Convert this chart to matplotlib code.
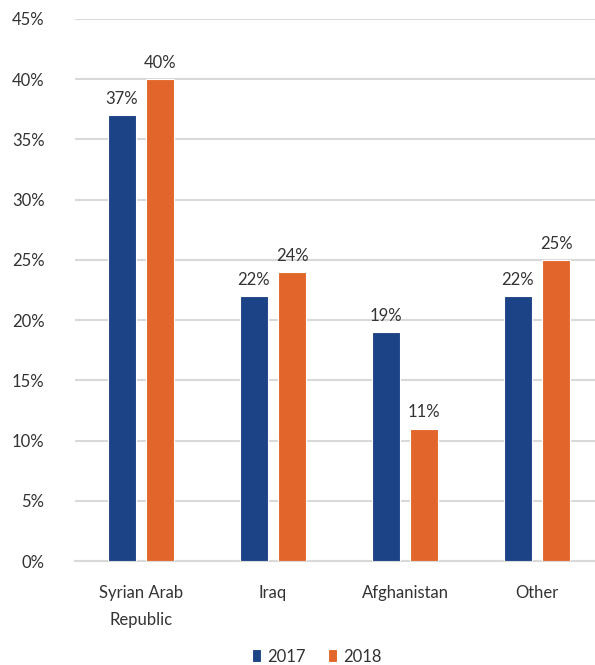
import matplotlib
matplotlib.use("Agg")
import matplotlib.pyplot as plt
import numpy as np

categories = ["Syrian Arab\nRepublic", "Iraq", "Afghanistan", "Other"]
years = ["2017", "2018"]
values_2017 = [37, 22, 19, 22]
values_2018 = [40, 24, 11, 25]
y_ticks = [0, 5, 10, 15, 20, 25, 30, 35, 40, 45]

colors = ["#1c4385", "#e2662b"]
text_color = "#333333"
grid_color = "#d9d9d9"
fs = 12

plt.rcParams["font.family"] = ["Lato", "DejaVu Sans"]

W, H = 595, 665
fig = plt.figure(figsize=(W / 100, H / 100), dpi=100)
ax = fig.add_axes([75 / W, (H - 561) / H, (W - 75) / W, 542 / H])

x = np.arange(len(categories))
bar_w = 0.212
offset = 0.144

for i, (vals, col, lab) in enumerate(zip([values_2017, values_2018], colors, years)):
    xs = x + (-offset if i == 0 else offset)
    bars = ax.bar(xs, vals, width=bar_w, color=col, edgecolor="white",
                  linewidth=0.8, label=lab, zorder=3)
    for b, v in zip(bars, vals):
        ax.annotate(f"{v}%", (b.get_x() + b.get_width() / 2, v),
                    xytext=(0, 6), textcoords="offset points",
                    ha="center", va="bottom", fontsize=fs, color=text_color)

ax.set_ylim(0, 45)
ax.set_xlim(-0.5, 3.5 - 8 / 132)
ax.set_yticks(y_ticks)
ax.set_yticklabels([f"{t}%" for t in y_ticks])
ax.set_xticks(x)
ax.set_xticklabels(categories, linespacing=1.85)

ax.yaxis.grid(True, color=grid_color, linewidth=1.5, zorder=0)
ax.set_axisbelow(True)
for s in ["top", "right", "left"]:
    ax.spines[s].set_visible(False)
ax.spines["bottom"].set_color(grid_color)
ax.spines["bottom"].set_linewidth(1.5)

ax.tick_params(axis="both", length=0, labelsize=fs, labelcolor=text_color)
ax.tick_params(axis="y", pad=22)
ax.tick_params(axis="x", pad=17)

leg = fig.legend(loc="lower center", bbox_to_anchor=(317 / W, -0.022), ncol=2,
                 frameon=False, fontsize=fs, handlelength=0.55, handleheight=0.8,
                 handletextpad=0.4, columnspacing=1.3)
for t in leg.get_texts():
    t.set_color(text_color)

fig.savefig("out.png", dpi=100)
